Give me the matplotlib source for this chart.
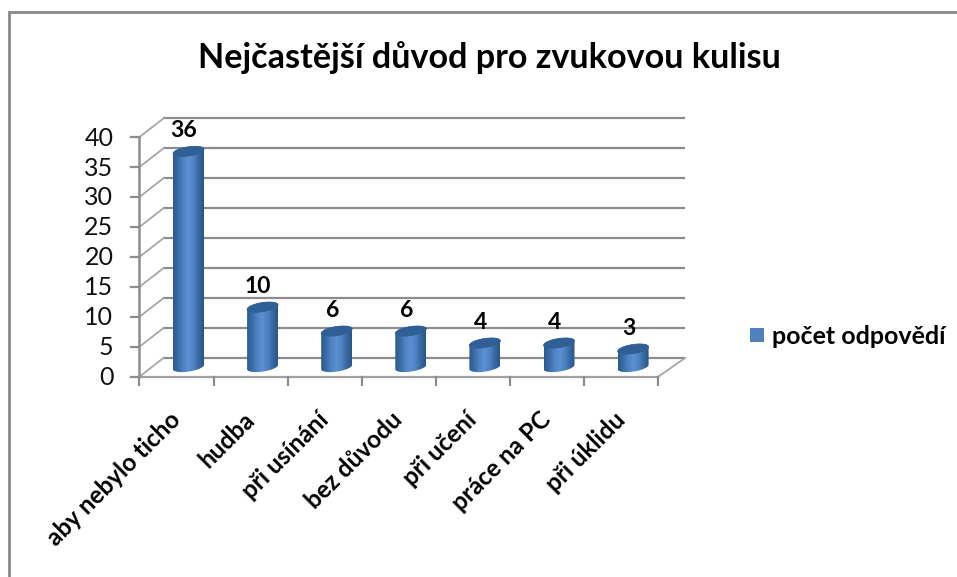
import numpy as np
import matplotlib
matplotlib.use("Agg")
import matplotlib.pyplot as plt
from matplotlib.path import Path
from matplotlib.patches import PathPatch, Rectangle
from matplotlib.colors import LinearSegmentedColormap
from matplotlib.transforms import Affine2D

categories = ["aby nebylo ticho", "hudba", "při usínání", "bez důvodu", "při učení", "práce na PC", "při úklidu"]
values = [36, 10, 6, 6, 4, 4, 3]
series_name = "počet odpovědí"
title = "Nejčastější důvod pro zvukovou kulisu"
y_ticks = [0, 5, 10, 15, 20, 25, 30, 35, 40]

W, H = 957, 577
plt.rcParams["font.family"] = ["Lato", "DejaVu Sans"]
fig = plt.figure(figsize=(W / 100, H / 100), dpi=100)
ax = fig.add_axes([0, 0, 1, 1])
ax.set_axis_off()

# mid-depth plane: category index -> pixel x, value -> pixel y
PX_CAT, X0 = 74.1, 188.5
PX_VAL, Y0 = 5.99, 367.0
ax.set_xlim((0 - X0) / PX_CAT, (W - X0) / PX_CAT)
ax.set_ylim((Y0 - H) / PX_VAL, Y0 / PX_VAL)
ax.set_autoscale_on(False)

def shifted(dx, dy):
    return ax.transData + Affine2D().translate(dx, -dy)

GRID = "#8c8c8c"
front = shifted(-12, 9.7)
back = shifted(12, -9.0)
left_i = -0.5
right_i = len(categories) - 0.5
back_right = right_i + 0.04

# back wall gridlines, side wall connectors, front ticks
for t in y_ticks:
    ax.plot([left_i, back_right], [t, t], transform=back, color=GRID, lw=1.6, solid_capstyle="butt", zorder=1)
    x1, y1 = front.transform((left_i, t))
    x2, y2 = back.transform((left_i, t))
    ax.plot([x1, x2], [y1, y2], transform=None, color="#a6a6a6", lw=1.3, zorder=1)
    ax.plot([x1 - 8, x1], [y1, y1], transform=None, color=GRID, lw=1.6, zorder=1)
ax.plot([left_i, left_i], [y_ticks[0], y_ticks[-1]], transform=front, color=GRID, lw=1.8, zorder=1)

# floor
ax.plot([left_i, right_i], [0, 0], transform=front, color="#a0a0a0", lw=1.6, zorder=1)
x1, y1 = front.transform((right_i, 0))
x2, y2 = back.transform((back_right, 0))
ax.plot([x1, x2], [y1, y2], transform=None, color="#a6a6a6", lw=1.3, zorder=1)
for k in range(len(categories) + 1):
    px, py = front.transform((left_i + k, 0))
    ax.plot([px, px], [py, py - 8], transform=None, color=GRID, lw=1.6, zorder=1)

# cylinders
cmap = LinearSegmentedColormap.from_list(
    "cyl", ["#2c5a8e", "#3a6da8", "#4f83c2", "#5a90d2", "#4f83c2", "#386aa3", "#2a5687"])
grad = np.linspace(0, 1, 64).reshape(1, -1)
RX, RY, TILT = 15.5, 4.6, 2.2  # cap half-width, half-height, tilt, in px

def cap_pts(cx, cy, t):
    return np.c_[cx + RX * np.cos(t), cy + RY * np.sin(t) + TILT * np.cos(t)]

for i, v in enumerate(values):
    bx, by = ax.transData.transform((i, 0))
    tx, ty = ax.transData.transform((i, v))
    lower = cap_pts(bx, by, np.linspace(np.pi, 2 * np.pi, 40))
    upper = cap_pts(tx, ty, np.linspace(0, np.pi, 40))
    body = np.r_[lower, upper, lower[:1]]
    patch = PathPatch(Path(body), transform=None, fc="none", ec="none", zorder=3)
    ax.add_patch(patch)
    w = RX / PX_CAT
    im = ax.imshow(grad, cmap=cmap, aspect="auto", zorder=3,
                   extent=(i - w, i + w, -2, v + 2), interpolation="bilinear")
    im.set_clip_path(patch)
    top = cap_pts(tx, ty, np.linspace(0, 2 * np.pi, 60))
    ax.add_patch(PathPatch(Path(top), transform=None, fc="#2f5f94", ec="#2f5f94", lw=0.5, zorder=4))
    ax.text(i, v, str(v), transform=shifted(-4.5, -20.5), ha="center", va="center",
            fontsize=16.5, color="black", fontweight="bold", zorder=5)

# value axis labels
for t in y_ticks:
    px, py = front.transform((left_i, t))
    ax.text(px - 26, py - 1, str(t), transform=None, ha="right", va="center", fontsize=18, color="#111111")

# category labels
for i, c in enumerate(categories):
    px, py = front.transform((i, 0))
    ax.text(px, py - 39, c, transform=None, rotation=45, rotation_mode="anchor",
            ha="right", va="center", fontsize=17.5, color="black", fontweight="bold")

# title
ax.text(489, H - 58, title, transform=None, ha="center", va="center", fontsize=24.6, color="black", fontweight="bold")

# legend
ax.add_patch(Rectangle((750, H - 342), 14, 14, transform=None, fc="#4f81bd", ec="none"))
ax.text(772, H - 337, series_name, transform=None, ha="left", va="center", fontsize=18, color="black", fontweight="bold")

# outer frame
ax.plot([9, 9, W], [0, H - 12, H - 12], transform=None, color="#888888", lw=2.0, solid_joinstyle="miter")

fig.savefig("out.png", dpi=100)
